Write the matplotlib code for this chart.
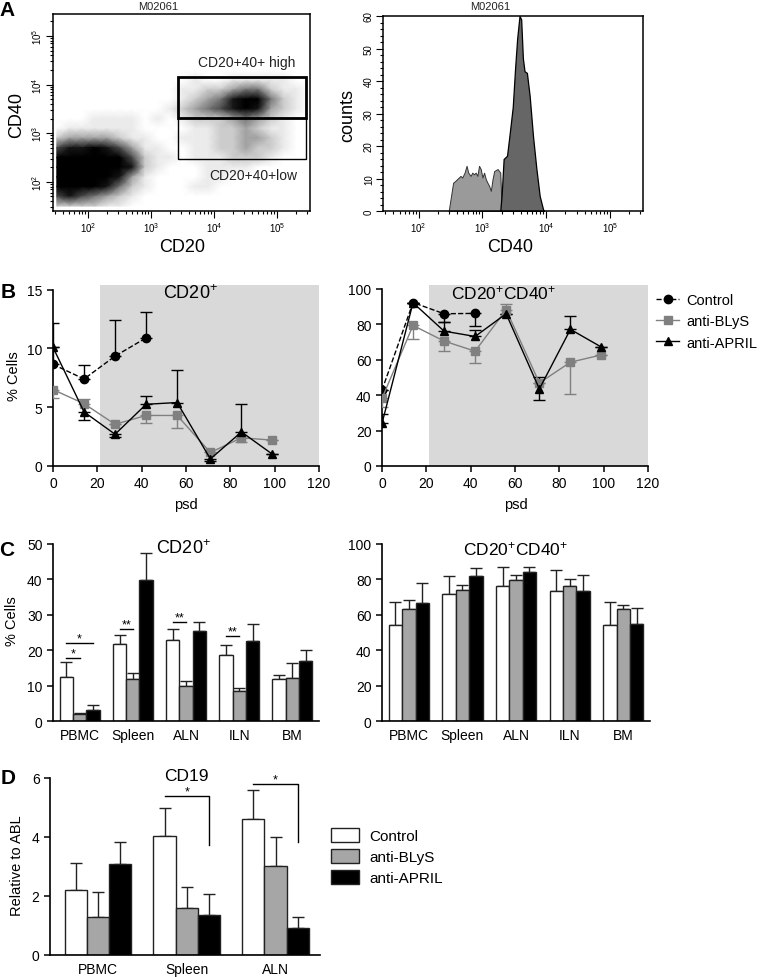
import numpy as np
import matplotlib
matplotlib.use("Agg")
import matplotlib.pyplot as plt
from matplotlib.ticker import FixedLocator, NullFormatter, MultipleLocator
from matplotlib.lines import Line2D
from matplotlib.patches import Patch, Rectangle

plt.rcParams['font.family'] = ['Liberation Sans', 'DejaVu Sans']
plt.rcParams['mathtext.fontset'] = 'custom'
plt.rcParams['mathtext.rm'] = 'Liberation Sans'
plt.rcParams['mathtext.it'] = 'Liberation Sans:italic'
plt.rcParams['mathtext.bf'] = 'Liberation Sans:bold'

# ---------------- data ----------------
# A: dot plot density (log10 CD20 columns, log10 CD40 rows, top row first)
dot_logx = [1.5, 1.7, 1.9, 2.1, 2.3, 2.5, 2.7, 2.9, 3.1, 3.3, 3.5,
            3.7, 3.9, 4.1, 4.3, 4.5, 4.7, 4.9, 5.1, 5.3, 5.5]
dot_logy = [5.3, 5.1, 4.9, 4.7, 4.5, 4.3, 4.1, 3.9, 3.7, 3.5,
            3.3, 3.1, 2.9, 2.7, 2.5, 2.3, 2.1, 1.9, 1.7, 1.5]
dot_density = [
    "000000000000000000000",
    "000000000000000000000",
    "000000000000000000000",
    "000000000000000000000",
    "000000000000000000000",
    "000000000000000000000",
    "000000000001001111100",
    "000000000011223442110",
    "000000000012346884210",
    "000000000123456763210",
    "000111101012223432100",
    "011111100001122321100",
    "233332110011122332100",
    "566765311001122322100",
    "899998521101112221000",
    "999998621000111100000",
    "999986310000110000000",
    "899864210001100000000",
    "565432100000000000000",
    "222211000000000000000",
]
gate_logx = [3.43, 5.46]
gate_high_logy = [3.31, 4.16]
gate_low_logy = [2.47, 3.31]

# A: CD40 histogram (log10 CD40, counts)
low_logx = [2.471, 2.540, 2.577, 2.603, 2.656, 2.683, 2.720, 2.751, 2.778,
            2.815, 2.841, 2.868, 2.894, 2.921, 2.947, 2.974, 3.000, 3.026,
            3.053, 3.079, 3.106, 3.132, 3.159, 3.185, 3.238, 3.280, 3.302]
low_counts = [0, 8.7, 9.3, 9.8, 10.8, 10.3, 11.8, 13.9, 11.8, 10.8, 11.8,
              11.3, 11.8, 10.8, 13.9, 12.9, 10.3, 11.8, 9.8, 8.7, 7.7, 6.2,
              9.8, 12.3, 12.9, 11.8, 0]
high_logx = [3.280, 3.302, 3.333, 3.386, 3.423, 3.476, 3.513, 3.545, 3.582,
             3.608, 3.635, 3.661, 3.698, 3.741, 3.794, 3.847, 3.899, 3.952, 3.968]
high_counts = [0, 5, 16, 17, 23, 32, 44, 53, 60, 59, 47, 43, 42.5, 35.5,
               23, 13, 4.6, 0.5, 0]

# B: time course
psd = [0, 14, 28, 42, 56, 71, 85, 99]
b1_control = [8.65, 7.4, 9.35, 10.9]
b1_control_hi = [3.55, 1.2, 3.1, 2.2]
b1_blys = [6.5, 5.3, 3.55, 4.3, 4.3, 1.15, 2.4, 2.2]
b1_blys_lo = [0.75, 0, 0, 0.65, 1.05, 0, 0.4, 0]
b1_blys_hi = [0, 0.4, 0, 0, 0, 0, 0, 0]
b1_april = [10.1, 4.6, 2.7, 5.25, 5.4, 0.6, 2.9, 1.0]
b1_april_lo = [0, 0.65, 0.2, 0, 0, 0.2, 0, 0]
b1_april_hi = [0, 0, 0, 0.7, 2.8, 0, 2.4, 0]

b2_control = [42.8, 92.1, 85.8, 86.0]
b2_control_lo = [0, 0, 4.5, 7.0]
b2_blys = [38.1, 79.2, 70.4, 64.7, 88.1, 46.8, 58.5, 62.6]
b2_blys_lo = [4.9, 7.5, 5.7, 6.8, 0, 0, 18.1, 0]
b2_blys_hi = [0, 0, 0, 0, 3.4, 0, 0, 0]
b2_april = [24.0, 92.0, 76.0, 73.0, 85.8, 43.4, 77.0, 67.0]
b2_april_lo = [0, 0, 0, 0, 0, 6.4, 0, 0]
b2_april_hi = [5.5, 0, 5.0, 3.4, 0, 7.0, 7.3, 0]

# C: tissues
tissues = ["PBMC", "Spleen", "ALN", "ILN", "BM"]
c1_control = [12.5, 21.8, 23.0, 18.7, 12.0]
c1_control_err = [4.2, 2.4, 3.1, 2.9, 1.0]
c1_blys = [2.0, 11.8, 10.0, 8.5, 12.2]
c1_blys_err = [0.4, 1.9, 1.3, 0.8, 4.2]
c1_april = [3.0, 39.7, 25.5, 22.7, 17.0]
c1_april_err = [1.5, 7.8, 2.5, 4.8, 3.0]

c2_control = [54.0, 71.9, 76.0, 73.4, 54.5]
c2_control_err = [13.2, 10.0, 11.0, 12.1, 12.7]
c2_blys = [63.2, 73.8, 79.4, 76.0, 63.0]
c2_blys_err = [4.9, 2.8, 3.2, 4.0, 2.8]
c2_april = [66.6, 82.1, 84.0, 73.4, 54.7]
c2_april_err = [11.3, 4.3, 2.8, 8.9, 9.1]

# D: CD19 relative to ABL
d_tissues = ["PBMC", "Spleen", "ALN"]
d_control = [2.2, 4.02, 4.61]
d_control_err = [0.93, 0.98, 1.0]
d_blys = [1.28, 1.58, 3.03]
d_blys_err = [0.84, 0.71, 0.98]
d_april = [3.08, 1.37, 0.92]
d_april_err = [0.74, 0.70, 0.36]

groups = ["Control", "anti-BLyS", "anti-APRIL"]
bar_colors = ["white", "#a6a6a6", "black"]

# ---------------- figure ----------------
W, H = 761, 978
fig = plt.figure(figsize=(W / 100, H / 100), dpi=100)


def px_axes(x0, y0, x1, y1):
    return fig.add_axes([x0 / W, 1 - y1 / H, (x1 - x0) / W, (y1 - y0) / H])


def ftext(x, y, s, **kw):
    kw.setdefault("ha", "center")
    kw.setdefault("va", "center")
    return fig.text(x / W, 1 - y / H, s, **kw)


def facs_log_axis(axis):
    axis.set_major_locator(FixedLocator([1e2, 1e3, 1e4, 1e5]))
    minors = [m * 10 ** e for e in range(1, 6) for m in range(2, 10)]
    axis.set_minor_locator(FixedLocator(minors))
    axis.set_minor_formatter(NullFormatter())
    axis.set_ticklabels([r"$10^{2}$", r"$10^{3}$", r"$10^{4}$", r"$10^{5}$"])


def prism(ax):
    for s in ["top", "right"]:
        ax.spines[s].set_visible(False)
    for s in ["left", "bottom"]:
        ax.spines[s].set_linewidth(1.2)
    ax.tick_params(direction="out", length=4, width=1.1, labelsize=10)


# ----- A left: dot plot -----
axA1 = px_axes(53, 15, 310, 212)
xs = 10 ** np.array(dot_logx)
ys = 10 ** np.array(dot_logy)
dens = np.array([[int(c) for c in row] for row in dot_density], dtype=float)
axA1.set_xscale("log")
axA1.set_yscale("log")
axA1.pcolormesh(xs, ys, dens, shading="gouraud", cmap="Greys", vmin=0, vmax=6.5,
                rasterized=True)
axA1.add_patch(Rectangle((10 ** gate_logx[0], 10 ** gate_high_logy[0]),
                         10 ** gate_logx[1] - 10 ** gate_logx[0],
                         10 ** gate_high_logy[1] - 10 ** gate_high_logy[0],
                         fill=False, lw=2.0, ec="black", zorder=3))
axA1.add_patch(Rectangle((10 ** gate_logx[0], 10 ** gate_low_logy[0]),
                         10 ** gate_logx[1] - 10 ** gate_logx[0],
                         10 ** gate_low_logy[1] - 10 ** gate_low_logy[0],
                         fill=False, lw=1.0, ec="black", zorder=3))
axA1.set_xlim(10 ** 1.44, 10 ** 5.52)
axA1.set_ylim(10 ** 1.4, 10 ** 5.45)
facs_log_axis(axA1.xaxis)
facs_log_axis(axA1.yaxis)
axA1.tick_params(which="both", direction="out", labelsize=7, width=0.8, pad=1.5)
axA1.tick_params(which="major", length=5)
axA1.tick_params(which="minor", length=2.5)
for lab in axA1.get_yticklabels():
    lab.set_rotation(90)
    lab.set_va("center")
for s in axA1.spines.values():
    s.set_linewidth(1.1)

# ----- A right: histogram -----
axA2 = px_axes(383, 17, 643, 212)
axA2.set_xscale("log")
axA2.fill_between(10 ** np.array(low_logx), low_counts, color="#9a9a9a",
                  edgecolor="#333333", lw=0.7)
axA2.fill_between(10 ** np.array(high_logx), high_counts, color="#666666",
                  edgecolor="black", lw=0.9)
axA2.set_xlim(10 ** 1.44, 10 ** 5.52)
axA2.set_ylim(0, 60)
facs_log_axis(axA2.xaxis)
axA2.yaxis.set_major_locator(MultipleLocator(10))
axA2.yaxis.set_minor_locator(MultipleLocator(2))
axA2.tick_params(which="both", direction="out", labelsize=7, width=0.8, pad=1.5)
axA2.tick_params(which="major", length=5)
axA2.tick_params(which="minor", length=2.5)
for lab in axA2.get_yticklabels():
    lab.set_rotation(90)
    lab.set_va("center")
for s in axA2.spines.values():
    s.set_linewidth(1.1)

ftext(158, 7.5, "M02061", fontsize=8, color="#222222")
ftext(490, 7.5, "M02061", fontsize=8, color="#222222")
ftext(247, 63, "CD20+40+ high", fontsize=10, color="#222222")
ftext(253, 176, "CD20+40+low", fontsize=10, color="#222222")
ftext(17, 115, "CD40", fontsize=13, rotation=90, rotation_mode="anchor")
ftext(348, 116, "counts", fontsize=13, rotation=90, rotation_mode="anchor")
ftext(182, 248, "CD20", fontsize=13)
ftext(510, 248, "CD40", fontsize=13)


# ----- B: time courses -----
def time_course(ax, control, c_lo, c_hi, blys, bl_lo, bl_hi, april, ap_lo, ap_hi):
    n = len(control)
    ax.errorbar(psd[:n], control, yerr=[c_lo, c_hi], fmt="none", ecolor="black",
                elinewidth=1, capsize=4, capthick=1, zorder=3)
    ax.errorbar(psd, blys, yerr=[bl_lo, bl_hi], fmt="none", ecolor="#808080",
                elinewidth=1, capsize=4, capthick=1, zorder=3)
    ax.errorbar(psd, april, yerr=[ap_lo, ap_hi], fmt="none", ecolor="black",
                elinewidth=1, capsize=4, capthick=1, zorder=4)
    ax.plot(psd[:n], control, "--", color="black", lw=1, marker="o", ms=6, zorder=5)
    ax.plot(psd, blys, "-", color="#808080", lw=1, marker="s", ms=6, zorder=5)
    ax.plot(psd, april, "-", color="black", lw=1, marker="^", ms=6, zorder=6)
    ax.axvspan(21, 120, color="#d9d9d9", lw=0, zorder=0)
    ax.set_xlim(0, 120)
    ax.xaxis.set_major_locator(MultipleLocator(20))
    prism(ax)


axB1 = px_axes(53, 286, 319, 467)
time_course(axB1, b1_control, [0] * 4, b1_control_hi, b1_blys, b1_blys_lo,
            b1_blys_hi, b1_april, b1_april_lo, b1_april_hi)
axB1.set_ylim(0, 15.4)
axB1.set_yticks([0, 5, 10, 15])
axB1.spines["left"].set_bounds(0, 15)

axB2 = px_axes(382, 286, 648, 467)
time_course(axB2, b2_control, b2_control_lo, [0] * 4, b2_blys, b2_blys_lo,
            b2_blys_hi, b2_april, b2_april_lo, b2_april_hi)
axB2.set_ylim(0, 102)
axB2.set_yticks([0, 20, 40, 60, 80, 100])
axB2.spines["left"].set_bounds(0, 100)

ftext(190, 294, r"CD20$^{+}$", fontsize=13)
ftext(504, 293, r"CD20$^{+}$CD40$^{+}$", fontsize=12.5)
ftext(14, 376, "% Cells", fontsize=10.5, rotation=90, rotation_mode="anchor")
ftext(186, 505, "psd", fontsize=10.5)
ftext(516, 505, "psd", fontsize=10.5)

line_handles = [
    Line2D([], [], color="black", ls="--", lw=1, marker="o", ms=6),
    Line2D([], [], color="#808080", ls="-", lw=1, marker="s", ms=6),
    Line2D([], [], color="black", ls="-", lw=1, marker="^", ms=6),
]
fig.legend(line_handles, groups, loc="upper left", bbox_to_anchor=(656 / W, 1 - 294 / H),
           frameon=False, fontsize=10.5, handlelength=1.6, handletextpad=0.5,
           labelspacing=0.5, borderpad=0, borderaxespad=0)


# ----- C and D: bar charts -----
def bar_panel(ax, series, errs, labels, width=0.25):
    x = np.arange(len(labels))
    for i, (vals, err) in enumerate(zip(series, errs)):
        pos = x + (i - 1) * width
        ax.bar(pos, vals, width=width, color=bar_colors[i], edgecolor="#222222",
               lw=1, zorder=2)
        ax.errorbar(pos, vals, yerr=[np.zeros(len(vals)), err], fmt="none",
                    ecolor="#222222", elinewidth=1, capsize=4, capthick=1, zorder=1)
    ax.set_xticks(x)
    ax.set_xticklabels(labels)
    prism(ax)
    ax.tick_params(axis="x", length=0, pad=5)
    return x


axC1 = px_axes(53, 545, 319, 722)
bar_panel(axC1, [c1_control, c1_blys, c1_april],
          [c1_control_err, c1_blys_err, c1_april_err], tissues)
axC1.set_xlim(-0.5, 4.5)
axC1.set_ylim(0, 50)
axC1.set_yticks([0, 10, 20, 30, 40, 50])


def sig_line(ax, x0, x1, y, label, dy):
    ax.plot([x0, x1], [y, y], color="black", lw=1)
    ax.text((x0 + x1) / 2, y + dy, label, ha="center", va="center", fontsize=9)


sig_line(axC1, -0.25, 0.0, 17.9, "*", 1.2)
sig_line(axC1, -0.25, 0.25, 22.0, "*", 1.2)
sig_line(axC1, 0.75, 1.0, 26.1, "**", 1.2)
sig_line(axC1, 1.75, 2.0, 28.0, "**", 1.2)
sig_line(axC1, 2.75, 3.0, 24.1, "**", 1.2)

axC2 = px_axes(382, 545, 650, 722)
bar_panel(axC2, [c2_control, c2_blys, c2_april],
          [c2_control_err, c2_blys_err, c2_april_err], tissues)
axC2.set_xlim(-0.5, 4.5)
axC2.set_ylim(0, 100)
axC2.set_yticks([0, 20, 40, 60, 80, 100])

ftext(183, 549, r"CD20$^{+}$", fontsize=13)
ftext(516, 549, r"CD20$^{+}$CD40$^{+}$", fontsize=12.5)
ftext(12, 621, "% Cells", fontsize=10.5, rotation=90, rotation_mode="anchor")

axD = px_axes(50, 779, 320, 956)
bar_panel(axD, [d_control, d_blys, d_april],
          [d_control_err, d_blys_err, d_april_err], d_tissues, width=0.25)
axD.set_xlim(-0.54, 2.5)
axD.set_ylim(0, 6)
axD.set_yticks([0, 2, 4, 6])


def bracket(ax, x0, x1, y, ydrop, label):
    ax.plot([x0, x1, x1], [y, y, ydrop], color="black", lw=1)
    ax.text((x0 + x1) / 2, y + 0.15, label, ha="center", va="center", fontsize=9)


bracket(axD, 0.75, 1.25, 5.38, 3.73, "*")
bracket(axD, 1.75, 2.25, 5.8, 3.84, "*")

ftext(186, 777, "CD19", fontsize=12.5)
ftext(17, 866, "Relative to ABL", fontsize=10.5, rotation=90, rotation_mode="anchor")

patch_handles = [Patch(facecolor=c, edgecolor="#222222", lw=1) for c in bar_colors]
fig.legend(patch_handles, groups, loc="upper left", bbox_to_anchor=(331 / W, 1 - 829 / H),
           frameon=False, fontsize=11, handlelength=1.8, handleheight=1.0,
           handletextpad=0.7, labelspacing=0.4, borderpad=0, borderaxespad=0)

# panel letters
for letter, (lx, ly) in zip("ABCD", [(7, 10), (8, 292), (7, 550), (8, 779)]):
    ftext(lx, ly, letter, fontsize=15, fontweight="bold")

fig.savefig("out.png", dpi=100)
